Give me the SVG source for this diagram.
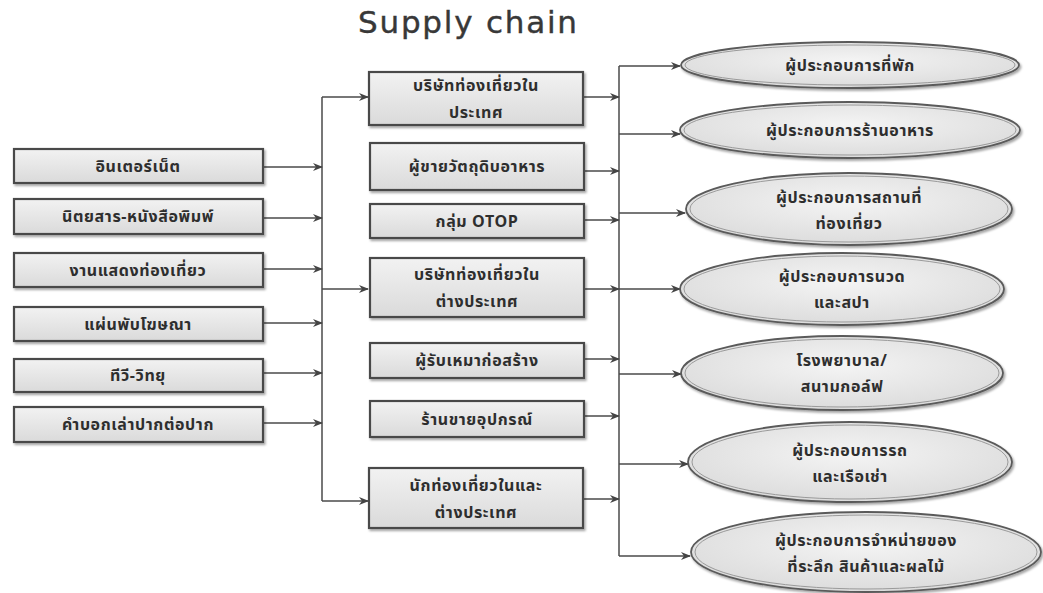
<svg xmlns="http://www.w3.org/2000/svg" width="1043" height="593" viewBox="0 0 1043 593">
<defs>
<linearGradient id="gBox" x1="0" y1="0" x2="0" y2="1">
<stop offset="0" stop-color="#f2f2f2"/>
<stop offset="1" stop-color="#dadada"/>
</linearGradient>
<radialGradient id="gEll" cx="0.5" cy="0.4" r="0.6">
<stop offset="0" stop-color="#f4f4f4"/>
<stop offset="1" stop-color="#dcdcdc"/>
</radialGradient>
<filter id="sh" x="-5%" y="-20%" width="110%" height="150%">
<feDropShadow dx="1.5" dy="2" stdDeviation="1.2" flood-color="#000" flood-opacity="0.35"/>
</filter>
<marker id="ar" viewBox="0 0 10 10" refX="9" refY="5" markerWidth="10" markerHeight="10" markerUnits="userSpaceOnUse" orient="auto">
<path d="M0,1 L10,5 L0,9 L3,5 z" fill="#444"/>
</marker>
</defs>
<style>
.box{fill:url(#gBox);stroke:#4a4a4a;stroke-width:2.2;filter:url(#sh)}
.ell{fill:url(#gEll);stroke:#5a5a5a;stroke-width:1.8;filter:url(#sh)}
.ein{fill:none;stroke:#9a9a9a;stroke-width:1}
.t{font-family:Tahoma,"Noto Sans Thai","Noto Sans Thai Looped",Loma,Garuda,"DejaVu Sans",sans-serif;font-size:16px;font-weight:bold;fill:#2e2e2e;text-anchor:middle;letter-spacing:0.6px}
.title{font-family:"DejaVu Sans","Open Sans",sans-serif;font-size:31px;fill:#383838;stroke:#383838;stroke-width:0.4}
.c{fill:none;stroke:#4a4a4a;stroke-width:1.5}
.ca{fill:none;stroke:#4a4a4a;stroke-width:1.5;marker-end:url(#ar)}
</style>
<rect width="1043" height="593" fill="#fff"/>
<text class="title" x="358" y="33" textLength="219" lengthAdjust="spacing">Supply chain</text>

<g id="connectors">
<line class="ca" x1="263" y1="167" x2="322" y2="167"/>
<line class="ca" x1="263" y1="218" x2="322" y2="218"/>
<line class="ca" x1="263" y1="269" x2="322" y2="269"/>
<line class="ca" x1="263" y1="323" x2="322" y2="323"/>
<line class="ca" x1="263" y1="373" x2="322" y2="373"/>
<line class="ca" x1="263" y1="423" x2="322" y2="423"/>
<line class="c" x1="322" y1="97" x2="322" y2="501"/>
<path class="ca" d="M322,97 H368"/>
<path class="ca" d="M322,289 H368"/>
<path class="ca" d="M322,501 H368"/>
<line class="ca" x1="583" y1="97" x2="619" y2="97"/>
<line class="ca" x1="584" y1="171" x2="619" y2="171"/>
<line class="ca" x1="584" y1="220" x2="619" y2="220"/>
<line class="ca" x1="584" y1="289" x2="619" y2="289"/>
<line class="ca" x1="584" y1="359" x2="619" y2="359"/>
<line class="ca" x1="584" y1="416" x2="619" y2="416"/>
<line class="ca" x1="583" y1="499" x2="619" y2="499"/>
<line class="c" x1="619" y1="66" x2="619" y2="556"/>
<path class="ca" d="M619,66 H680"/>
<path class="ca" d="M619,134 H680"/>
<path class="ca" d="M619,213 H685"/>
<path class="ca" d="M619,289 H680"/>
<path class="ca" d="M619,374 H681"/>
<path class="ca" d="M619,464 H688"/>
<path class="ca" d="M619,556 H690"/>
</g>

<g id="src1"><rect class="box" x="14" y="149" width="249" height="34"/><text class="t" x="138" y="172">อินเตอร์เน็ต</text></g>
<g id="src2"><rect class="box" x="14" y="199" width="249" height="35"/><text class="t" x="138" y="222">นิตยสาร-หนังสือพิมพ์</text></g>
<g id="src3"><rect class="box" x="14" y="253" width="249" height="34"/><text class="t" x="138" y="276">งานแสดงท่องเที่ยว</text></g>
<g id="src4"><rect class="box" x="14" y="307" width="249" height="34"/><text class="t" x="138" y="330">แผ่นพับโฆษณา</text></g>
<g id="src5"><rect class="box" x="14" y="359" width="249" height="33"/><text class="t" x="138" y="381">ทีวี-วิทยุ</text></g>
<g id="src6"><rect class="box" x="14" y="407" width="249" height="35"/><text class="t" x="138" y="430">คำบอกเล่าปากต่อปาก</text></g>

<g id="mid1"><rect class="box" x="369" y="72" width="214" height="53"/><text class="t" x="476" y="91">บริษัทท่องเที่ยวใน</text><text class="t" x="476" y="118">ประเทศ</text></g>
<g id="mid2"><rect class="box" x="370" y="143" width="214" height="47"/><text class="t" x="477" y="172">ผู้ขายวัตถุดิบอาหาร</text></g>
<g id="mid3"><rect class="box" x="370" y="204" width="214" height="34"/><text class="t" x="477" y="227">กลุ่ม OTOP</text></g>
<g id="mid4"><rect class="box" x="370" y="258" width="214" height="59"/><text class="t" x="477" y="280">บริษัทท่องเที่ยวใน</text><text class="t" x="477" y="307">ต่างประเทศ</text></g>
<g id="mid5"><rect class="box" x="370" y="343" width="214" height="35"/><text class="t" x="477" y="366">ผู้รับเหมาก่อสร้าง</text></g>
<g id="mid6"><rect class="box" x="370" y="401" width="214" height="36"/><text class="t" x="477" y="425">ร้านขายอุปกรณ์</text></g>
<g id="mid7"><rect class="box" x="369" y="468" width="214" height="60"/><text class="t" x="476" y="491">นักท่องเที่ยวในและ</text><text class="t" x="476" y="518">ต่างประเทศ</text></g>

<g id="e1"><ellipse class="ell" cx="850" cy="65" rx="169" ry="23"/><ellipse class="ein" cx="850" cy="65" rx="165" ry="20"/><text class="t" x="850" y="71">ผู้ประกอบการที่พัก</text></g>
<g id="e2"><ellipse class="ell" cx="850" cy="130" rx="170" ry="28"/><ellipse class="ein" cx="850" cy="130" rx="166" ry="25"/><text class="t" x="850" y="136">ผู้ประกอบการร้านอาหาร</text></g>
<g id="e3"><ellipse class="ell" cx="849" cy="209" rx="163" ry="36"/><ellipse class="ein" cx="849" cy="209" rx="159" ry="33"/><text class="t" x="849" y="203">ผู้ประกอบการสถานที่</text><text class="t" x="849" y="229">ท่องเที่ยว</text></g>
<g id="e4"><ellipse class="ell" cx="842" cy="289" rx="162" ry="36"/><ellipse class="ein" cx="842" cy="289" rx="158" ry="33"/><text class="t" x="842" y="282">ผู้ประกอบการนวด</text><text class="t" x="842" y="308">และสปา</text></g>
<g id="e5"><ellipse class="ell" cx="842" cy="373" rx="161" ry="37"/><ellipse class="ein" cx="842" cy="373" rx="157" ry="34"/><text class="t" x="842" y="366">โรงพยาบาล/</text><text class="t" x="842" y="392">สนามกอล์ฟ</text></g>
<g id="e6"><ellipse class="ell" cx="850" cy="462" rx="162" ry="40"/><ellipse class="ein" cx="850" cy="462" rx="158" ry="37"/><text class="t" x="850" y="456">ผู้ประกอบการรถ</text><text class="t" x="850" y="482">และเรือเช่า</text></g>
<g id="e7"><ellipse class="ell" cx="866" cy="552" rx="175" ry="40"/><ellipse class="ein" cx="866" cy="552" rx="171" ry="37"/><text class="t" x="866" y="546">ผู้ประกอบการจำหน่ายของ</text><text class="t" x="866" y="572">ที่ระลึก สินค้าและผลไม้</text></g>
</svg>
